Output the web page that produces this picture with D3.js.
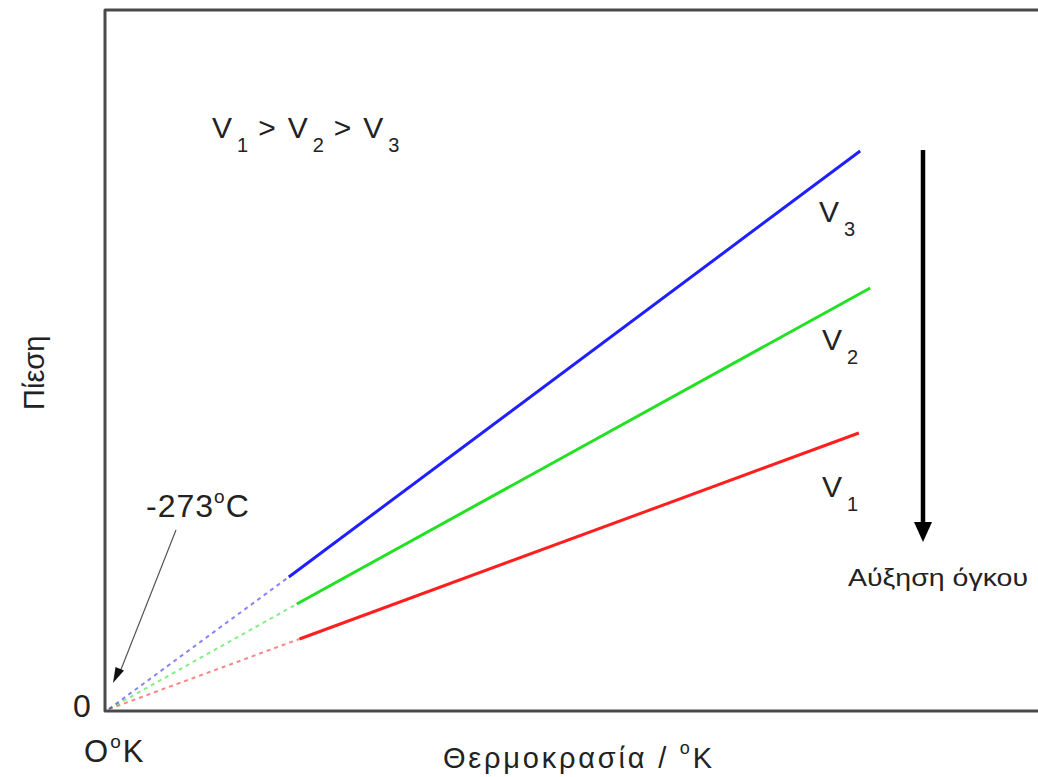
<!DOCTYPE html>
<html>
<head>
<meta charset="utf-8">
<script src="https://cdn.jsdelivr.net/npm/d3@7"></script>
<style>
  html, body { margin: 0; padding: 0; background: #fff; }
  svg { display: block; }
  text { font-family: "Liberation Sans", Arial, sans-serif; fill: #222; }
</style>
</head>
<body>
<svg id="chart" width="1038" height="777"></svg>
<script>
// Isochoric lines: pressure rises linearly with absolute temperature
const seriesNames = ["V1", "V2", "V3"];
const seriesColors = ["#ff1f1f", "#22e022", "#1f1fff"];
// measured segment (solid) start and end, temperature in K
const tStart = [286, 282, 270];
const tEnd = [1126, 1143, 1128];
// pressure (arbitrary units) at those temperatures
const pStart = [70, 105, 132];
const pEnd = [276, 421, 558];
// extrapolated origin: 0 K, zero pressure
const origin = { t: 0, p: 0 };

const svg = d3.select("#chart");
const W = 1038, H = 777;

const x = d3.scaleLinear().domain([0, 1395]).range([109, 1038]);
const y = d3.scaleLinear().domain([0, 700]).range([709, 9]);

// frame: left, top and bottom edges
svg.append("path")
  .attr("d", `M${W + 5},10 L105,10 L105,711 L${W + 5},711`)
  .attr("fill", "none")
  .attr("stroke", "#4a4a4a")
  .attr("stroke-width", 3)
  .attr("stroke-linejoin", "round");

const line = d3.line().x(d => x(d.t)).y(d => y(d.p));

seriesNames.forEach((name, i) => {
  // extrapolation back to absolute zero
  svg.append("path")
    .attr("d", line([origin, { t: tStart[i], p: pStart[i] }]))
    .attr("fill", "none")
    .attr("stroke", seriesColors[i])
    .attr("stroke-opacity", 0.55)
    .attr("stroke-width", 2)
    .attr("stroke-dasharray", "4,4");
  // measured range
  svg.append("path")
    .attr("d", line([{ t: tStart[i], p: pStart[i] }, { t: tEnd[i], p: pEnd[i] }]))
    .attr("fill", "none")
    .attr("stroke", seriesColors[i])
    .attr("stroke-width", 3);
});

// subscripted "V" label helper
function vLabel(sel, n, first) {
  sel.append("tspan").attr("dx", first ? 0 : 12).text("V");
  sel.append("tspan").attr("font-size", 20).attr("dx", 5).attr("dy", 14).text(n);
}

// V labels beside the line ends
const labelPos = [[822, 497], [822, 350], [819, 222]];
seriesNames.forEach((name, i) => {
  const t = svg.append("text")
    .attr("x", labelPos[i][0]).attr("y", labelPos[i][1])
    .attr("font-size", 30);
  vLabel(t, String(i + 1), true);
});

// ordering of the volumes
const ord = svg.append("text").attr("x", 212).attr("y", 138).attr("font-size", 30);
vLabel(ord, "1", true);
ord.append("tspan").attr("dx", 10).attr("dy", -14).text(">");
vLabel(ord, "2", false);
ord.append("tspan").attr("dx", 10).attr("dy", -14).text(">");
vLabel(ord, "3", false);

// volume increase arrow
svg.append("line")
  .attr("x1", 923).attr("y1", 150).attr("x2", 923).attr("y2", 524)
  .attr("stroke", "#000").attr("stroke-width", 4.5);
svg.append("path")
  .attr("d", "M914,522 L932,522 L923,542 Z")
  .attr("fill", "#000");

svg.append("text")
  .attr("x", 848).attr("y", 586)
  .attr("font-size", 24)
  .attr("textLength", 180)
  .attr("lengthAdjust", "spacingAndGlyphs")
  .text("Αύξηση όγκου");

// absolute zero annotation
svg.append("line")
  .attr("x1", 176).attr("y1", 530).attr("x2", 120).attr("y2", 672)
  .attr("stroke", "#555").attr("stroke-width", 1.2);
svg.append("path")
  .attr("d", "M113,683 L115.5,667 L124,670.5 Z")
  .attr("fill", "#111");

function degree(sel, before, after, supSize) {
  sel.append("tspan").text(before);
  sel.append("tspan").attr("font-size", supSize).attr("dy", -14).text("o");
  sel.append("tspan").attr("dy", 14).text(after);
}

const abs = svg.append("text").attr("x", 146).attr("y", 517).attr("font-size", 32)
  .attr("letter-spacing", 1);
degree(abs, "-273", "C", 19);

// axis annotations
svg.append("text").attr("x", 73).attr("y", 717).attr("font-size", 32).text("0");

const ok = svg.append("text").attr("x", 84).attr("y", 762).attr("font-size", 31)
  .attr("letter-spacing", 2);
degree(ok, "O", "K", 19);

const xt = svg.append("text").attr("x", 443).attr("y", 768).attr("font-size", 29)
  .attr("textLength", 269).attr("lengthAdjust", "spacing");
degree(xt, "Θερμοκρασία / ", "K", 18);

svg.append("text")
  .attr("transform", "translate(44,410) rotate(-90)")
  .attr("font-size", 29)
  .text("Πίεση");
</script>
</body>
</html>
